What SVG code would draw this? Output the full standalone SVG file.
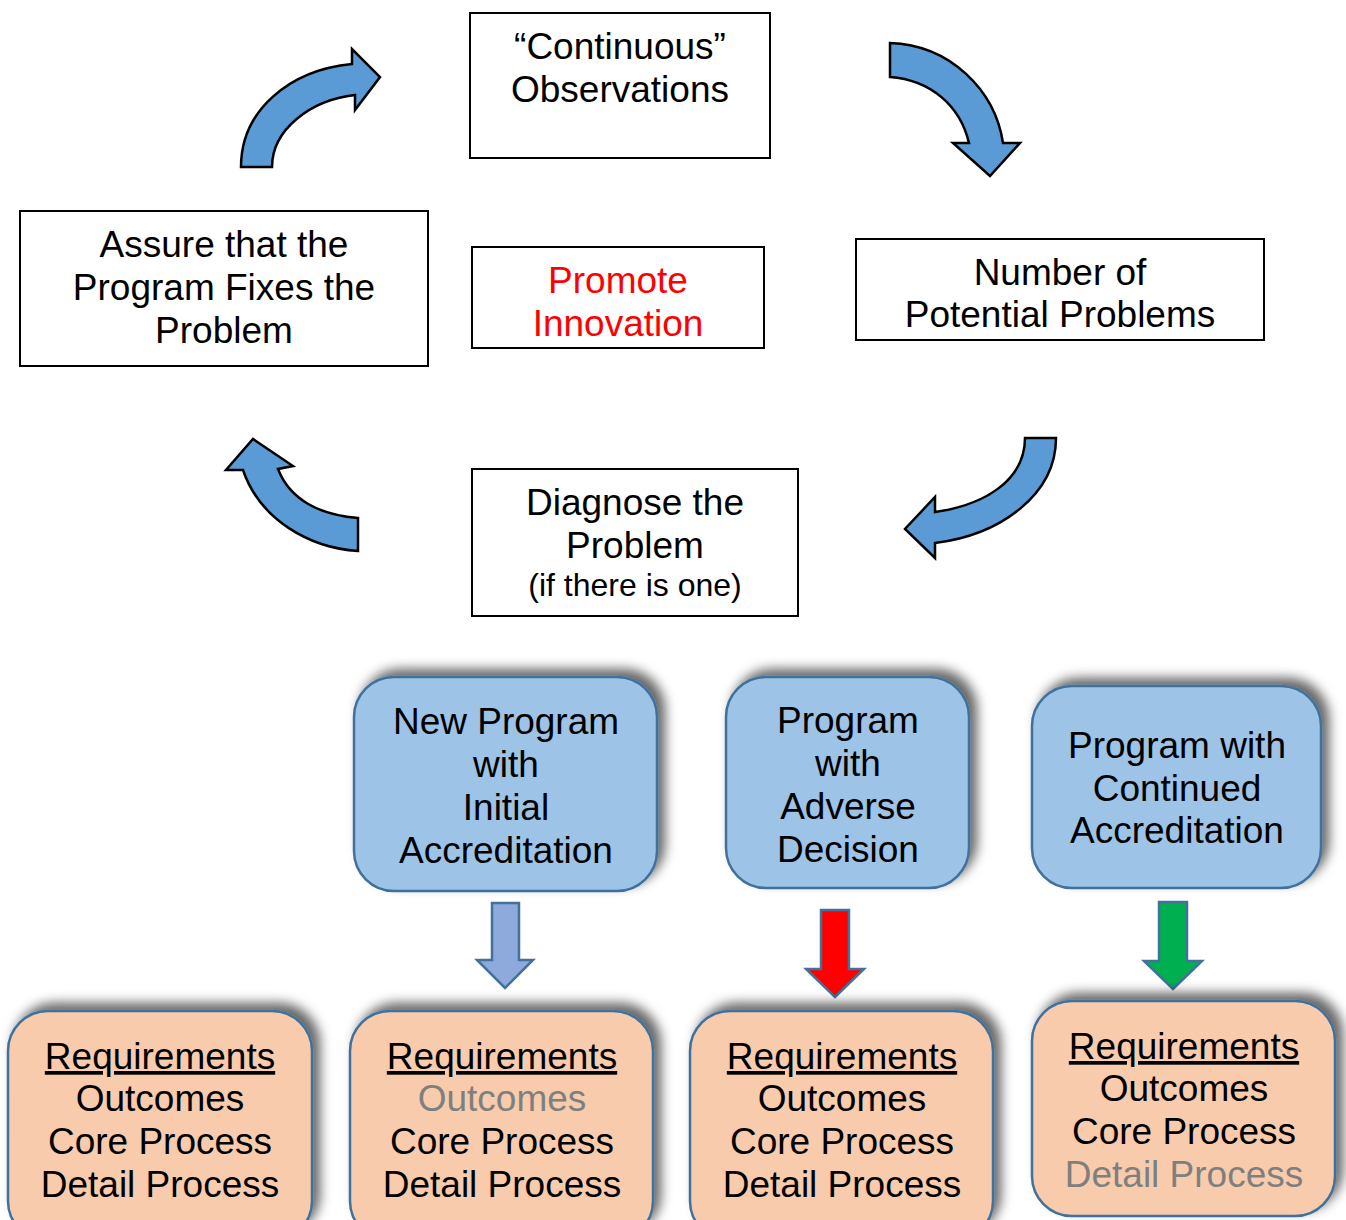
<svg xmlns="http://www.w3.org/2000/svg" width="1346" height="1220" viewBox="0 0 1346 1220">
<defs>
<filter id="sh" x="-20%" y="-20%" width="140%" height="140%">
<feDropShadow dx="7" dy="-7" stdDeviation="6" flood-color="#000" flood-opacity="0.6"/>
</filter>
</defs>
<style>
text{font-family:"Liberation Sans",Arial,sans-serif;font-size:37px;text-anchor:middle;fill:#000}
.box{fill:#fff;stroke:#000;stroke-width:2}
.blue{fill:#9DC3E6;stroke:#41719C;stroke-width:2.5;filter:url(#sh)}
.orange{fill:#F8CBAD;stroke:#41719C;stroke-width:2.5;filter:url(#sh)}
.curve{fill:#5B9BD5;stroke:#000;stroke-width:2.5;stroke-linejoin:miter}
.down{stroke:#41719C;stroke-width:2.5}
.red{fill:#FF0000}
.gray{fill:#7F7F7F}
.u{text-decoration:underline}
</style>
<rect width="1346" height="1220" fill="#fff"/>

<g id="connectors">
<path class="curve" d="M241,167 C241,110 290,70 352,64 L352,49 L380,77 L355,110 L355,95 C310,100 272,130 272,167 Z"/>
<path class="curve" d="M890,43 C950,45 995,90 1003,143 L1020,143 L990,176 L953,143 L969,143 C960,105 930,80 890,77 Z"/>
<path class="curve" d="M1025,438 C1025,480 985,505 935,512 L935,497 L905,529 L935,558 L935,543 C1000,535 1056,495 1056,438 Z"/>
<path class="curve" d="M358,518 C320,515 290,500 278,469 L293,466 L253,439 L226,470 L243,470 C260,520 310,548 358,551 Z"/>
<path class="down" fill="#8EA9DB" d="M492,903 L519,903 L519,960 L533,960 L505,988 L477,960 L492,960 Z"/>
<path class="down" fill="#FF0000" d="M821,910 L849,910 L849,969 L864,969 L835,997 L806,969 L821,969 Z"/>
<path class="down" fill="#00B050" d="M1159,902 L1187,902 L1187,961 L1202,961 L1173,989 L1144,961 L1159,961 Z"/>
</g>

<g id="observations">
<rect class="box" x="470" y="13" width="300" height="145"/>
<text x="620" y="59">“Continuous”</text>
<text x="620" y="102">Observations</text>
</g>

<g id="assure">
<rect class="box" x="20" y="211" width="408" height="155"/>
<text x="224" y="257">Assure that the</text>
<text x="224" y="300">Program Fixes the</text>
<text x="224" y="343">Problem</text>
</g>

<g id="promote">
<rect class="box" x="472" y="247" width="292" height="101"/>
<text class="red" x="618" y="293">Promote</text>
<text class="red" x="618" y="336">Innovation</text>
</g>

<g id="number">
<rect class="box" x="856" y="239" width="408" height="101"/>
<text x="1060" y="285">Number of</text>
<text x="1060" y="327">Potential Problems</text>
</g>

<g id="diagnose">
<rect class="box" x="472" y="469" width="326" height="147"/>
<text x="635" y="515">Diagnose the</text>
<text x="635" y="558">Problem</text>
<text x="635" y="596" style="font-size:32px">(if there is one)</text>
</g>

<g id="new-program">
<rect class="blue" x="354" y="677" width="303" height="214" rx="40"/>
<text x="506" y="734">New Program</text>
<text x="506" y="777">with</text>
<text x="506" y="820">Initial</text>
<text x="506" y="863">Accreditation</text>
</g>

<g id="adverse">
<rect class="blue" x="726" y="677" width="243" height="211" rx="40"/>
<text x="848" y="733">Program</text>
<text x="848" y="776">with</text>
<text x="848" y="819">Adverse</text>
<text x="848" y="862">Decision</text>
</g>

<g id="continued">
<rect class="blue" x="1032" y="686" width="289" height="202" rx="40"/>
<text x="1177" y="758">Program with</text>
<text x="1177" y="801">Continued</text>
<text x="1177" y="843">Accreditation</text>
</g>

<g id="req1">
<rect class="orange" x="8" y="1011" width="304" height="230" rx="40"/>
<text class="u" x="160" y="1069">Requirements</text>
<text x="160" y="1111">Outcomes</text>
<text x="160" y="1154">Core Process</text>
<text x="160" y="1197">Detail Process</text>
</g>

<g id="req2">
<rect class="orange" x="350" y="1011" width="303" height="230" rx="40"/>
<text class="u" x="502" y="1069">Requirements</text>
<text class="gray" x="502" y="1111">Outcomes</text>
<text x="502" y="1154">Core Process</text>
<text x="502" y="1197">Detail Process</text>
</g>

<g id="req3">
<rect class="orange" x="690" y="1011" width="303" height="230" rx="40"/>
<text class="u" x="842" y="1069">Requirements</text>
<text x="842" y="1111">Outcomes</text>
<text x="842" y="1154">Core Process</text>
<text x="842" y="1197">Detail Process</text>
</g>

<g id="req4">
<rect class="orange" x="1032" y="1001" width="303" height="215" rx="40"/>
<text class="u" x="1184" y="1059">Requirements</text>
<text x="1184" y="1101">Outcomes</text>
<text x="1184" y="1144">Core Process</text>
<text class="gray" x="1184" y="1187">Detail Process</text>
</g>
</svg>
